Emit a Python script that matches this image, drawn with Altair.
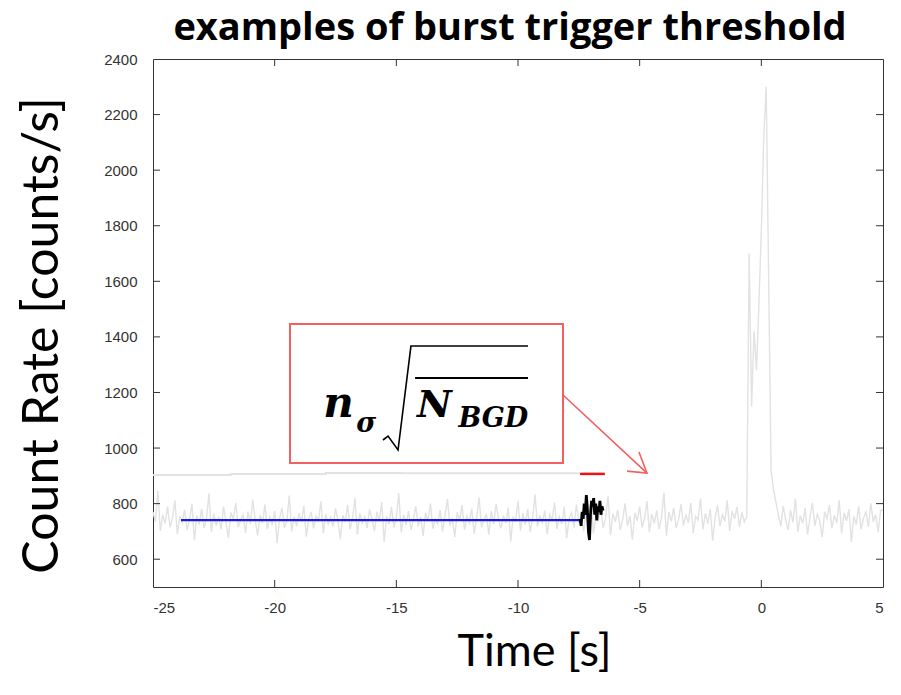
import altair as alt
import pandas as pd

# ---------------- data ----------------
TITLE = "examples of burst trigger threshold"
T0, DT = -25.0, 0.1
rate = [
    770, 735, 845, 702, 760, 728, 790, 715, 748, 812, 690, 755, 731, 778, 705, 742, 800, 668, 757, 725,
    781, 712, 749, 836, 698, 764, 721, 752, 707, 789, 733, 676, 768, 744, 803, 716, 739, 760, 695, 771,
    728, 815, 741, 686, 758, 730, 797, 709, 750, 722, 774, 658, 746, 785, 713, 737, 829, 700, 753, 719,
    766, 734, 792, 681, 745, 770, 711, 756, 738, 808, 694, 762, 727, 750, 717, 783, 741, 672, 759, 733,
    796, 708, 747, 821, 689, 765, 730, 752, 712, 779, 743, 701, 771, 737, 806, 662, 755, 726, 788, 714,
    749, 838, 696, 760, 724, 773, 705, 745, 791, 718, 752, 683, 768, 735, 801, 710, 744, 727, 777, 699,
    758, 816, 721, 747, 679, 769, 739, 795, 706, 754, 731, 782, 692, 750, 823, 715, 741, 763, 688, 774,
    726, 799, 744, 711, 757, 730, 786, 664, 751, 738, 810, 703, 766, 724, 780, 697, 748, 833, 718, 755,
    732, 775, 690, 761, 742, 804, 709, 753, 727, 789, 676, 746, 768, 714, 797, 736, 752, 700, 772, 729,
    815, 693, 758, 740, 784, 712, 749, 826, 686, 764, 735, 778, 705, 743, 801, 720, 756, 670, 767, 738,
    790, 715, 747, 809, 697, 762, 729, 776, 708, 751, 840, 684, 770, 736, 785, 713, 744, 798, 722, 759,
    731, 803, 694, 754, 741, 818, 707, 765, 728, 781, 667, 748, 794, 719, 760, 737, 812, 702, 773, 745,
    788, 716, 769, 735,
    752, 1700, 1150, 1420, 1280, 1520, 1780, 2120, 2300, 1620, 920, 850, 805,
    760, 718, 792, 741, 705, 776, 733, 819, 698, 757, 729, 784, 688, 751, 803, 720, 762, 739, 680, 771,
    746, 795, 711, 758, 730, 812, 693, 767, 738, 780, 662, 754, 725, 790, 707, 748, 771, 716, 801, 735,
    760, 697, 776,
]

SEG_T0, SEG_DT = -7.45, 0.043
segment = [745, 720, 770, 745, 800, 760, 831, 780, 700, 669, 760, 810, 790, 820, 760,
           800, 740, 790, 770, 810, 760, 790, 775]

thr_t = [-25.0, -21.8, -17.9, -14.8, -7.45]
thr_v = [903, 907, 910, 909, 909]

red_t = [-7.45, -6.43]
red_v = [907, 907]

blue_t = [-23.85, -7.45]
blue_v = [741, 741]

x_ticks = [-25, -20, -15, -10, -5, 0, 5]
y_ticks = [600, 800, 1000, 1200, 1400, 1600, 1800, 2000, 2200, 2400]

# annotation (data units)
box = dict(t=-19.37, t2=-8.15, v=1446, v2=946)
arrow_t = [-8.15, -4.70]
arrow_v = [1191, 910]
head_t = [-5.52, -4.70, -5.03]
head_v = [917, 910, 986]
rad_t = [-15.55, -15.34, -14.93, -14.40, -9.59]
rad_v = [1029, 1043, 993, 1367, 1367]
bar_t = [-14.23, -9.59]
bar_v = [1252, 1252]
txt_s = ["n", "σ", "N", "BGD"]
txt_t = [-18.0, -16.65, -14.15, -12.45]
txt_v = [1112, 1058, 1112, 1076]
txt_fs = [42, 27, 38, 27]

W, H = 730, 528

# ---------------- frames ----------------
curve = pd.DataFrame({"t": [T0 + DT * i for i in range(len(rate))] + [5.0], "v": rate + [rate[-1]]})
seg = pd.DataFrame({"t": [SEG_T0 + SEG_DT * i for i in range(len(segment))], "v": segment})
thr = pd.DataFrame({"t": thr_t, "v": thr_v})
red = pd.DataFrame({"t": red_t, "v": red_v})
blue = pd.DataFrame({"t": blue_t, "v": blue_v})

xs = alt.Scale(domain=[-25, 5], nice=False, zero=False)
ys = alt.Scale(domain=[500, 2400], nice=False, zero=False)

xaxis = alt.Axis(values=x_ticks, title="Time [s]", titleX=381, titleY=78,
                 titleBaseline="alphabetic", titleFontSize=45,
                 labelExpr="'' + datum.value")
yaxis = alt.Axis(values=y_ticks, title="Count Rate [counts/s]", titleX=-111,
                 titleY=H / 2 + 12, titleBaseline="middle", titleAngle=-90, titleFontSize=50,
                 labelExpr="'' + datum.value")

X = alt.X("t:Q", scale=xs, axis=xaxis)
Y = alt.Y("v:Q", scale=ys, axis=yaxis)

base_curve = alt.Chart(curve).mark_line(color="#e2e2e2", strokeWidth=1.4).encode(x=X, y=Y)
thr_line = alt.Chart(thr).mark_line(interpolate="step-after", color="#e2e2e2",
                                    strokeWidth=2).encode(x=X, y=Y)
seg_line = alt.Chart(seg).mark_line(color="black", strokeWidth=2.8).encode(x=X, y=Y)
red_line = alt.Chart(red).mark_line(color="#ee1111", strokeWidth=2.5).encode(x=X, y=Y)
blue_line = alt.Chart(blue).mark_line(color="#1a1ae6", strokeWidth=2.2).encode(x=X, y=Y)

box_df = pd.DataFrame([box])
box_mark = alt.Chart(box_df).mark_rect(fillOpacity=0, stroke="#f26060", strokeWidth=2).encode(
    x=X, x2="t2:Q", y=Y, y2="v2:Q")

arrow = alt.Chart(pd.DataFrame({"t": arrow_t, "v": arrow_v})).mark_line(
    color="#f26060", strokeWidth=1.6).encode(x=X, y=Y)
head = alt.Chart(pd.DataFrame({"t": head_t, "v": head_v, "o": list(range(len(head_t)))})).mark_line(
    color="#f26060", strokeWidth=1.6).encode(x=X, y=Y, order="o:Q")
radical = alt.Chart(pd.DataFrame({"t": rad_t, "v": rad_v, "o": list(range(len(rad_t)))})).mark_line(
    color="black", strokeWidth=1.6).encode(x=X, y=Y, order="o:Q")
bar = alt.Chart(pd.DataFrame({"t": bar_t, "v": bar_v})).mark_line(
    color="black", strokeWidth=2).encode(x=X, y=Y)
texts = alt.Chart(pd.DataFrame({"t": txt_t, "v": txt_v, "s": txt_s, "fs": txt_fs})).mark_text(
    font="DejaVu Serif", fontWeight="bold", fontStyle="italic", align="left",
    baseline="alphabetic", color="black").encode(
    x=X, y=Y, text="s:N", size=alt.Size("fs:Q", scale=None, legend=None))

# chart title as a text mark above the plot
title_mark = alt.Chart(pd.DataFrame({"s": [TITLE]})).mark_text(
    font="Open Sans", fontSize=38, fontWeight="bold", color="black", align="center",
    baseline="alphabetic").encode(text="s:N", x=alt.value(W / 2 - 8), y=alt.value(-19))

# inward ticks on all four sides
xt = pd.DataFrame({"t": x_ticks[1:-1]})
yt = pd.DataFrame({"v": y_ticks[:-1]})
tick_color = "#333333"
bt = alt.Chart(xt).mark_rule(color=tick_color).encode(x=X, y=alt.value(H), y2=alt.value(H - 7))
tt = alt.Chart(xt).mark_rule(color=tick_color).encode(x=X, y=alt.value(0), y2=alt.value(7))
lt = alt.Chart(yt).mark_rule(color=tick_color).encode(y=Y, x=alt.value(0), x2=alt.value(7))
rt = alt.Chart(yt).mark_rule(color=tick_color).encode(y=Y, x=alt.value(W), x2=alt.value(W - 7))

chart = alt.layer(
    base_curve, thr_line, blue_line, red_line, seg_line,
    box_mark, arrow, head, radical, bar, texts,
    bt, tt, lt, rt, title_mark,
).properties(
    width=W, height=H,
    autosize=alt.AutoSizeParams(type="none"),
    padding={"left": 145, "top": 51, "right": 10, "bottom": 95},
).configure_view(
    stroke="#333333", strokeWidth=1
).configure_axis(
    grid=False, ticks=False, domain=False,
    labelFont="Liberation Sans", labelFontSize=15, labelColor="#333333",
    titleFont="Lato", titleFontWeight="normal", titleColor="black",
).configure_axisX(labelPadding=13).configure_axisY(labelPadding=16)

chart.save("out.html", embed_options={"renderer": "svg", "actions": False})
